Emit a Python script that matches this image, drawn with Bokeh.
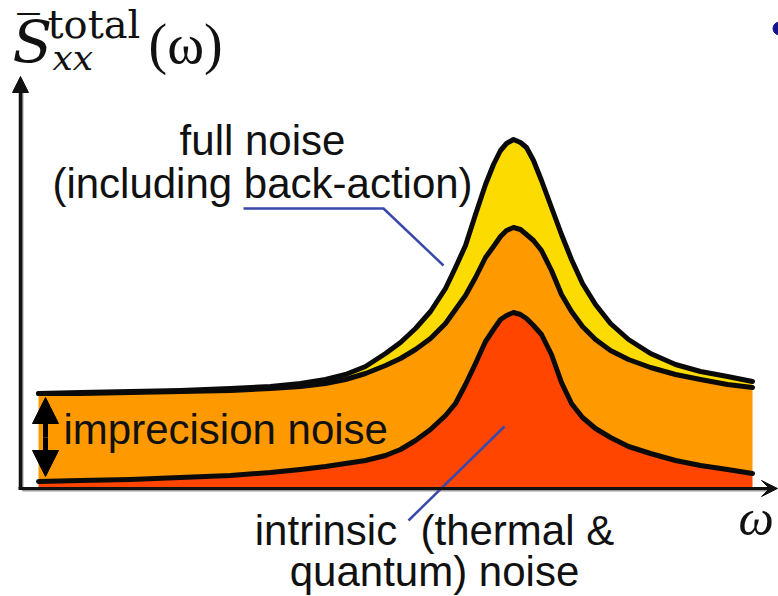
from bokeh.plotting import figure
from bokeh.models import Range1d, Label, Arrow, NormalHead, VeeHead, ColumnDataSource
from bokeh.embed import file_html
from bokeh.resources import INLINE

# frequency axis (arbitrary units, origin at the vertical axis)
omega = [18, 60, 110, 160, 210, 250, 280, 305, 325, 345, 365, 380, 395, 410, 425, 435,
         445, 455, 465, 473, 480, 486, 493, 500, 506, 513, 521, 531, 541, 551, 562, 575,
         590, 608, 630, 655, 680, 707, 732]

# full noise (including back-action)
s_full = [95, 96, 97, 98, 100, 102, 105, 109, 114, 122, 135, 146, 160, 177, 200, 221,
          243, 274, 304, 324, 338, 345, 349, 346, 341, 328, 308, 281, 254, 229, 205, 184,
          165, 149, 135, 124, 117, 112, 107]

# intrinsic + imprecision noise
s_mid = [95, 95, 96, 97, 98, 100, 102, 105, 109, 115, 123, 130, 139, 150, 165, 179,
         193, 211, 231, 242, 252, 258, 261, 259, 254, 248, 238, 218, 194, 177, 162, 149,
         138, 129, 121, 114, 109, 104, 101]

# intrinsic (thermal & quantum) noise
s_intr = [7, 8, 9, 11, 13, 16, 19, 22, 25, 28, 33, 39, 48, 59, 73, 85,
          104, 125, 147, 159, 169, 173, 176, 174, 170, 163, 154, 134, 106, 85, 71, 60,
          51, 42, 35, 28, 23, 19, 15]

zeros = [0] * len(omega)

src = ColumnDataSource(dict(w=omega, full=s_full, mid=s_mid, intr=s_intr, zero=zeros))

p = figure(width=778, height=596, x_range=Range1d(-20, 758), y_range=Range1d(-108, 488),
           output_backend="svg", toolbar_location=None, min_border=0,
           x_axis_location=None, y_axis_location=None)
p.grid.grid_line_color = None
p.outline_line_color = None
p.background_fill_color = "white"
p.border_fill_color = "white"

# filled bands
p.varea(x="w", y1="zero", y2="intr", source=src, fill_color="#FF4500")
p.varea(x="w", y1="intr", y2="mid", source=src, fill_color="#FF9900")
p.varea(x="w", y1="mid", y2="full", source=src, fill_color="#FCDC00")

# curves
for col in ["intr", "mid", "full"]:
    p.line(x="w", y=col, source=src, line_color="#0a0a0a", line_width=5,
           line_cap="round", line_join="round")

# axis shadows
p.line([2, 2], [-2, 400], line_color="#9a9a9a", line_width=2)
p.line([2, 748], [-2, -2], line_color="#9a9a9a", line_width=2)

# axes with arrows
p.add_layout(Arrow(x_start=0, y_start=0, x_end=0, y_end=412, line_width=3.5,
                   line_color="#111111",
                   end=NormalHead(size=16, fill_color="#111111", line_color="#111111")))
p.add_layout(Arrow(x_start=-2, y_start=0, x_end=757, y_end=0, line_width=3,
                   line_color="#111111",
                   end=VeeHead(size=16, fill_color="#111111", line_color="#111111")))

# double arrow for imprecision noise
for y_tip in (91, 12):
    p.add_layout(Arrow(x_start=25, y_start=51, x_end=25, y_end=y_tip, line_width=5,
                       line_color="black",
                       end=NormalHead(size=26, fill_color="black", line_color="black")))

# pointer lines
blue = "#3949AB"
p.line([223, 363, 423], [280, 280, 223], line_color=blue, line_width=2.5)
p.line([484, 388], [62, -32], line_color=blue, line_width=2.5)

sans = "Liberation Sans"
fs = "42px"
def lab(x, y, t, align="center", font=sans, size=fs, style="normal", color="#111111"):
    p.add_layout(Label(x=x, y=y, text=t, text_align=align, text_baseline="alphabetic",
                       text_font=font, text_font_size=size, text_font_style=style,
                       text_color=color))

lab(242, 348, "full noise")
lab(242, 305, "(including back-action)")
lab(43, 59, "imprecision noise", align="left")
lab(414, -42, "intrinsic\u00a0 (thermal &")
lab(414, -83, "quantum) noise")

# y-axis label  S̄_xx^total(ω)
serif = "DejaVu Serif"
lab(-8, 447, "S", align="left", font=serif, size="58px", style="italic")
lab(-3, 456, "\u00af", align="left", font="Liberation Serif", size="44px")
lab(27, 465, "total", align="left", font=serif, size="40px")
lab(32, 431, "xx", align="left", font=serif, size="36px", style="italic")
lab(128, 445, "(\u03c9)", align="left", font="Liberation Serif", size="56px")

# x-axis label
lab(718, -29, "\u03c9", align="left", font="Liberation Serif", size="50px", style="italic")

# slide bullet
p.scatter(x=[759], y=[460], size=13, color="#13138A")

open("out.html", "w").write(file_html(p, INLINE))
